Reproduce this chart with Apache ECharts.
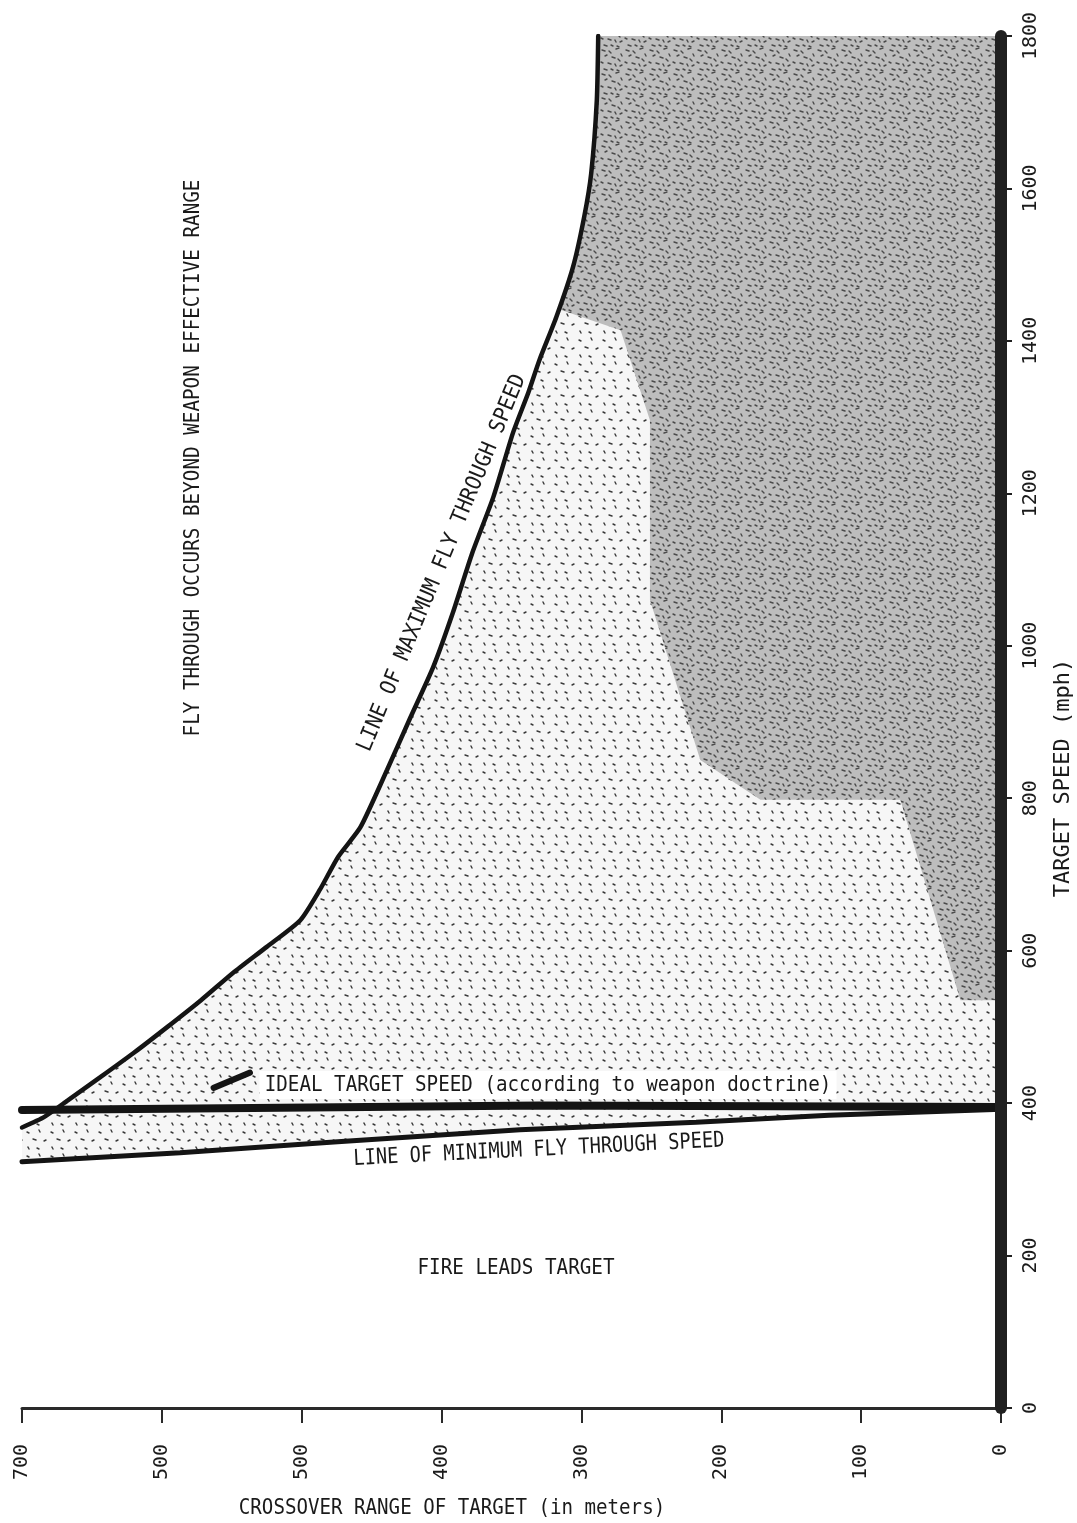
<!DOCTYPE html>
<html lang="en">
<head>
<meta charset="UTF-8">
<title>Fly through speed</title>
<script src="https://cdn.jsdelivr.net/npm/echarts@6/dist/echarts.min.js"></script>
<style>
    html, body {margin:0; padding:0; background:#fff}
    #main {width:1077px; height:1523px}
</style>
</head>
<body>
<div id="main"></div>
<script>
// tick labels as printed (the 600 tick is printed like "500" in the scan)
var rangeTicks = ['0', '100', '200', '300', '400', '500', '500', '700'];
var speedTicks = ['0', '200', '400', '600', '800', '1000', '1200', '1400', '1600', '1800'];

// line of maximum fly through speed (range m, speed mph)
var maxRange = [288, 289, 293, 298, 306, 318, 330, 338, 349, 363, 378, 392, 406, 423, 439, 458, 474, 487, 501, 525, 549, 572, 596, 620, 644, 667, 684, 700];
var maxSpeed = [1800, 1716, 1620, 1563, 1497, 1431, 1375, 1332, 1279, 1195, 1122, 1043, 972, 903, 837, 762, 723, 680, 640, 605, 571, 535, 500, 466, 434, 404, 382, 368];

// line of minimum fly through speed
var minRange = [700, 587, 477, 344, 218, 123, 0];
var minSpeed = [323, 335, 349, 365, 375, 384, 392];

// ideal target speed
var idealRange = [700, 330, 0];
var idealSpeed = [391, 397, 395];

// short pointer to the ideal speed label
var pointerRange = [563, 537];
var pointerSpeed = [420, 440];

// darker stippled zone
var denseRange = [288, 0, 0, 29, 72, 172, 215, 251, 251, 272, 315, 306, 298, 293, 289];
var denseSpeed = [1800, 1800, 535, 535, 798, 798, 850, 1060, 1296, 1414, 1441, 1497, 1563, 1620, 1716];

function pairs(a, b) {
    var out = [];
    for (var i = 0; i < a.length; i++) out.push([a[i], b[i]]);
    return out;
}

var maxPts = pairs(maxRange, maxSpeed);
var minPts = pairs(minRange, minSpeed);
var shadePts = [[0, 1800]].concat(maxPts).concat(minPts);
var densePts = pairs(denseRange, denseSpeed);

function makeTile(size, bg, ink, marks) {
    var c = document.createElement('canvas');
    c.width = size; c.height = size;
    var g = c.getContext('2d');
    g.fillStyle = bg;
    g.fillRect(0, 0, size, size);
    g.strokeStyle = ink;
    g.lineWidth = 1.4;
    g.lineCap = 'round';
    marks.forEach(function (m) {
        g.beginPath();
        g.moveTo(m[0], m[1]);
        g.lineTo(m[0] + m[2], m[1] + m[3]);
        g.stroke();
    });
    return c;
}
var lightTile = makeTile(24, '#f6f6f6', '#3a3a3a',
    [[3, 4, 2, 1], [15, 2, 1, 2], [9, 11, 3, 1], [20, 13, 2, -1], [4, 19, 1, 2], [13, 20, 2, 1]]);
var denseTile = makeTile(24, '#bdbdbd', '#4a4a4a',
    [[2, 2, 3, 1], [9, 3, 2, 2], [16, 1, 3, -1], [21, 6, 1, 2], [5, 8, 2, -1], [12, 9, 3, 1],
     [18, 11, 2, 2], [1, 14, 2, 1], [8, 15, 3, 1], [15, 16, 1, 2], [20, 18, 2, -1],
     [4, 21, 3, 1], [11, 21, 2, 1], [17, 22, 2, 1]]);

function polySeries(pts, fill, z) {
    return {
        type: 'custom',
        silent: true,
        z: z,
        data: [[0, 0]],
        renderItem: function (params, api) {
            return {
                type: 'polygon',
                shape: {points: pts.map(function (p) { return api.coord(p); })},
                style: {fill: fill}
            };
        }
    };
}

function lineSeries(pts, width, smooth) {
    return {
        type: 'line',
        data: pts,
        symbol: 'none',
        silent: true,
        smooth: smooth || false,
        z: 4,
        lineStyle: {color: '#141414', width: width, cap: 'round'}
    };
}

var mono = "'DejaVu Sans Mono', 'Liberation Mono', monospace";
var ink = '#1a1a1a';

function label(text, x, y, rot, sx, bg) {
    var st = {
        text: text, fill: ink, font: '22px ' + mono,
        fontSize: 22, fontFamily: mono,
        align: 'center', verticalAlign: 'middle',
        textAlign: 'center', textVerticalAlign: 'middle'
    };
    if (bg) { st.backgroundColor = '#fff'; st.padding = [3, 6]; }
    return {type: 'text', x: x, y: y, rotation: rot, scaleX: sx, z: 20, style: st};
}

var chart = echarts.init(document.getElementById('main'));
chart.setOption({
    animation: false,
    backgroundColor: '#fff',
    grid: {left: 22, right: 76, top: 36, bottom: 115, containLabel: false, outerBoundsMode: 'none'},
    xAxis: {
        type: 'value', min: 0, max: 700, interval: 100, inverse: true,
        axisLine: {lineStyle: {color: '#2a2a2a', width: 3}},
        axisTick: {length: 15, lineStyle: {color: '#2a2a2a', width: 2}},
        axisLabel: {
            rotate: 90, margin: 36, color: ink, fontSize: 20, fontFamily: mono,
            formatter: function (v) { return rangeTicks[Math.round(v / 100)]; }
        },
        splitLine: {show: false}
    },
    yAxis: {
        type: 'value', min: 0, max: 1800, interval: 200, position: 'right', z: 10,
        axisLine: {show: true, lineStyle: {color: '#202020', width: 12}},
        axisTick: {show: true, length: 11, lineStyle: {color: '#202020', width: 2}},
        axisLabel: {
            rotate: 90, margin: 20, color: ink, fontSize: 20, fontFamily: mono,
            formatter: function (v) { return speedTicks[Math.round(v / 200)]; }
        },
        splitLine: {show: false}
    },
    graphic: [
        label('FLY THROUGH OCCURS BEYOND WEAPON EFFECTIVE RANGE', 193, 458, Math.PI / 2, 0.876),
        label('LINE OF MAXIMUM FLY THROUGH SPEED', 442, 563, 67.4 * Math.PI / 180, 0.93),
        label('IDEAL TARGET SPEED (according to weapon doctrine)', 548, 1085, 0, 0.873, true),
        label('LINE OF MINIMUM FLY THROUGH SPEED', 539, 1150, 0.05, 0.85),
        label('FIRE LEADS TARGET', 516, 1268, 0, 0.875),
        label('CROSSOVER RANGE OF TARGET (in meters)', 452, 1508, 0, 0.87),
        label('TARGET SPEED (mph)', 1063, 778, Math.PI / 2, 1.0)
    ],
    series: [
        polySeries(shadePts, {image: lightTile, repeat: 'repeat'}, 1),
        polySeries(densePts, {image: denseTile, repeat: 'repeat'}, 2),
        lineSeries(minPts, 5),
        lineSeries(pairs(idealRange, idealSpeed), 8),
        lineSeries(maxPts, 4.5, 0.2),
        lineSeries(pairs(pointerRange, pointerSpeed), 6)
    ]
});
</script>
</body>
</html>
